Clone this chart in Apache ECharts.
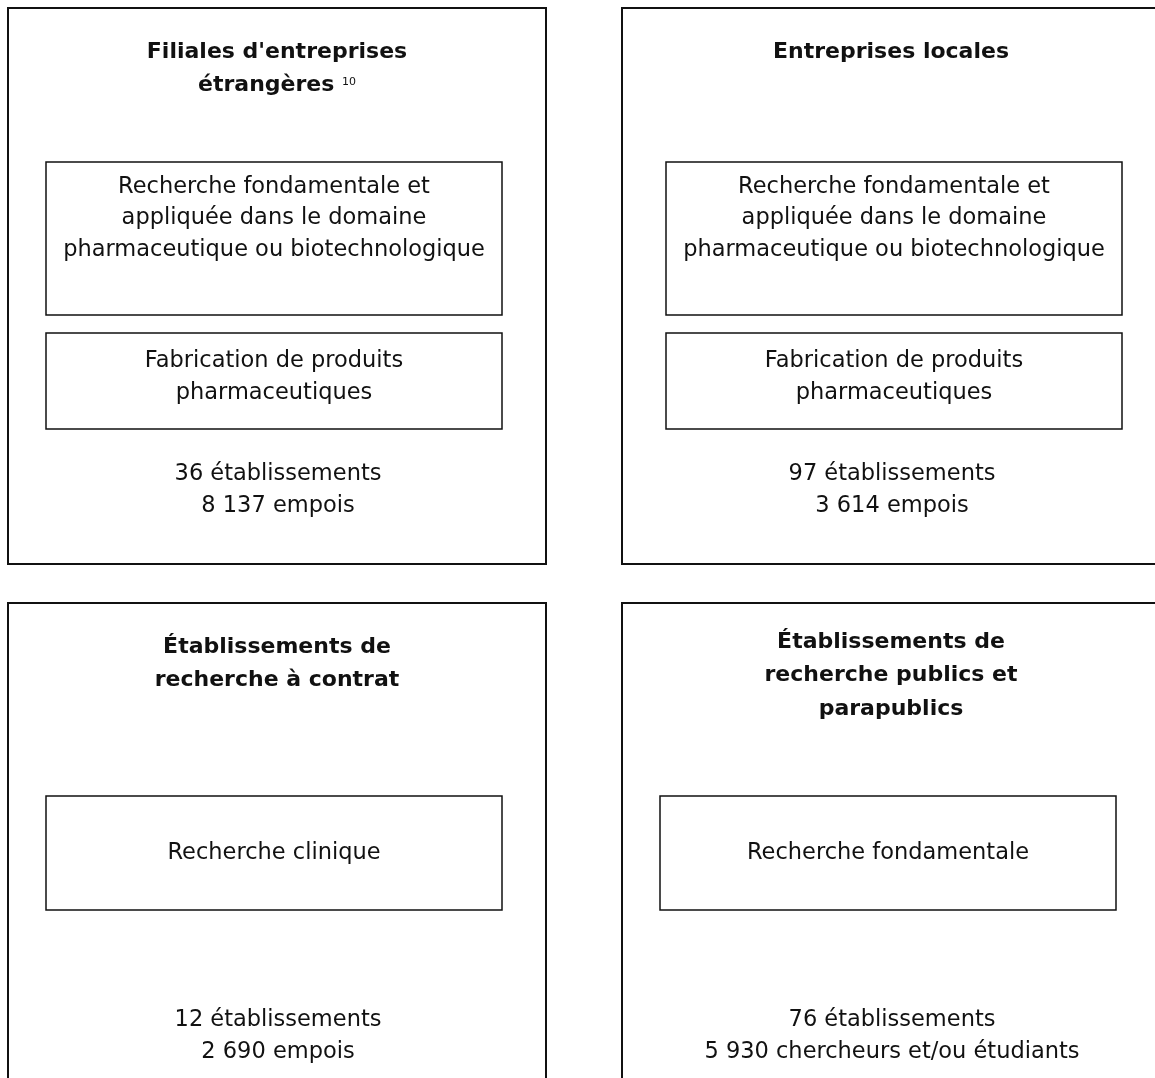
<!DOCTYPE html>
<html>
<head>
<meta charset="utf-8">
<script src="https://cdn.jsdelivr.net/npm/echarts@6/dist/echarts.min.js"></script>
<style>
  html, body { margin: 0; padding: 0; background: #fff; }
  #chart { width: 1155px; height: 1078px; }
</style>
</head>
<body>
<div id="chart"></div>
<script>
// ---- Data ----
const panelTitles = [
  ["Filiales d'entreprises", "étrangères {sup|10}"],
  ["Entreprises locales"],
  ["Établissements de", "recherche à contrat"],
  ["Établissements de", "recherche publics et", "parapublics"]
];
const panelActivities = [
  [["Recherche fondamentale et", "appliquée dans le domaine", "pharmaceutique ou biotechnologique"],
   ["Fabrication de produits", "pharmaceutiques"]],
  [["Recherche fondamentale et", "appliquée dans le domaine", "pharmaceutique ou biotechnologique"],
   ["Fabrication de produits", "pharmaceutiques"]],
  [["Recherche clinique"]],
  [["Recherche fondamentale"]]
];
const establishments = [36, 97, 12, 76];
const workforce = ["8 137", "3 614", "2 690", "5 930"];
const workforceUnit = ["empois", "empois", "empois", "chercheurs et/ou étudiants"];

// ---- Layout (positions / sizes / styles) ----
const FONT = "DejaVu Sans";
const panelPos = [[8, 8], [622, 8], [8, 603], [622, 603]];
const panelW = 538, panelH = 556;
const titleFirstLine = [44, 44, 44, 39];
const innerX = [38, 44, 38, 38];
const innerW = 456;
// per-row inner box layout: [relTop, height, textCenterOffset]
const innerTopRow = [[154, 153, 56.5], [325, 96, 44]];
const innerBottomRow = [[193, 114, 57]];
const countsCenter = [482, 482, 433, 433];

const elements = [];
panelPos.forEach((p, i) => {
  const [px, py] = p;
  elements.push({
    type: 'rect',
    shape: { x: px, y: py, width: panelW, height: panelH },
    style: { fill: '#fff', stroke: '#111', lineWidth: 2 }
  });
  // title
  const tl = panelTitles[i];
  elements.push({
    type: 'text',
    x: px + panelW / 2, y: py + titleFirstLine[i] - 16.5,
    style: {
      text: tl.join('\n'),
      fontFamily: FONT, fontWeight: 'bold', fontSize: 22,
      lineHeight: 33.5, fill: '#111',
      align: 'center', verticalAlign: 'top',
      rich: {
        sup: { fontFamily: FONT, fontSize: 11, fontWeight: 'normal', fill: '#111',
               verticalAlign: 'middle', padding: [0, 0, 8, 0], lineHeight: 12 }
      }
    }
  });
  // inner boxes
  const layout = i < 2 ? innerTopRow : innerBottomRow;
  panelActivities[i].forEach((lines, k) => {
    const [rt, rh, tc] = layout[k];
    const bx = px + innerX[i];
    elements.push({
      type: 'rect',
      shape: { x: bx, y: py + rt, width: innerW, height: rh },
      style: { fill: '#fff', stroke: '#111', lineWidth: 1.5 }
    });
    elements.push({
      type: 'text',
      x: bx + innerW / 2, y: py + rt + tc,
      style: {
        text: lines.join('\n'),
        fontFamily: FONT, fontSize: 22.5, lineHeight: 31.5, fill: '#111',
        align: 'center', verticalAlign: 'middle'
      }
    });
  });
  // counts
  elements.push({
    type: 'text',
    x: px + panelW / 2 + 1, y: py + countsCenter[i],
    style: {
      text: establishments[i] + ' établissements\n' + workforce[i] + ' ' + workforceUnit[i],
      fontFamily: FONT, fontSize: 22.5, lineHeight: 32, fill: '#111',
      align: 'center', verticalAlign: 'middle'
    }
  });
});

const chart = echarts.init(document.getElementById('chart'), null, { renderer: 'canvas' });
chart.setOption({
  backgroundColor: '#fff',
  animation: false,
  graphic: { elements: elements }
});
</script>
</body>
</html>
